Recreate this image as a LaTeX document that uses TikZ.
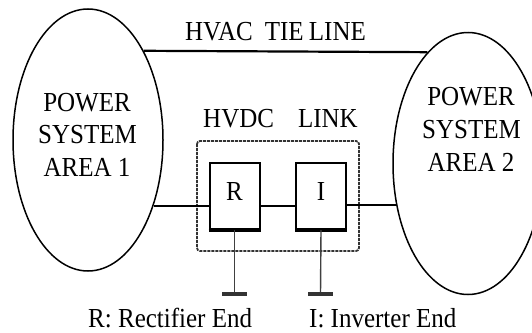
\documentclass[tikz,border=0pt]{standalone}
\usepackage{fontspec}
\usepackage{graphicx}
\setmainfont{Liberation Serif}
\usetikzlibrary{shapes.geometric}
\newcommand{\tx}[1]{\scalebox{1}[1.1]{#1}}
\tikzset{
  area/.style={draw, ellipse, line width=1.5pt, minimum width=150pt, minimum height=262pt, inner sep=0pt},
  lbl/.style={font=\fontsize{25}{30}\selectfont, inner sep=0pt, anchor=base},
  conv/.style={draw, line width=2pt, minimum width=50pt, minimum height=66pt, inner sep=0pt,
    font=\fontsize{25}{30}\selectfont, text depth=9pt},
  wire/.style={line width=2.2pt},
  gnd/.style={line width=1.4pt, draw=black!75},
  gbar/.style={line width=3.5pt, draw=black!80},
}
\begin{document}
\begin{tikzpicture}[x=1pt, y=-1pt]
\useasboundingbox (0,0) rectangle (532,332);
% areas
\node[area] (A1) at (88,140) {};
\node[area] (A2) at (468,163.5) {};
\node[lbl] (a1l1) at (87,111) {\tx{POWER}};
\node[lbl] (a1l2) at (87.5,143) {\tx{SYSTEM}};
\node[lbl] (a1l3) at (87,176) {\tx{AREA 1}};
\node[lbl] (a2l1) at (471,105) {\tx{POWER}};
\node[lbl] (a2l2) at (471.5,138) {\tx{SYSTEM}};
\node[lbl] (a2l3) at (471,171) {\tx{AREA 2}};
% HVAC tie line
\draw[wire] (A1.58) -- (A2.110.4);
\node[lbl] (hvac) at (275.5,40) {\tx{HVAC\hspace{12pt}TIE\hspace{-1pt} LINE}};
% HVDC link
\draw[line width=1.8pt, draw=black!80, dash pattern=on 3pt off 1pt, rounded corners=3pt]
  (197,141) rectangle (359,251);
\node[lbl, anchor=base west] (hvdc) at (203,127) {\tx{HVDC\hspace{24pt}LINK}};
\node[conv] (R) at (234.5,196) {\tx{R}};
\node[conv] (I) at (321,196) {\tx{I}};
\draw[line width=3pt] (R.south west) -- (R.south east);
\draw[line width=3pt] (I.south west) -- (I.south east);
\draw[wire] (A1.-45) -- (R.west |- A1.-45);
\draw[wire] (R.east |- A1.-45) -- (I.west |- A1.-45);
\draw[wire] (I.east |- A2.210.9) -- (A2.210.9);
% grounds
\coordinate (gR) at (234.5,294);
\coordinate (gI) at (320.5,294);
\draw[gnd] (R.south) -- (gR);
\draw[gnd] (I.south) -- (gI);
\draw[gbar] ([xshift=-12.5pt]gR) -- ([xshift=12.5pt]gR);
\draw[gbar] ([xshift=-12.5pt]gI) -- ([xshift=12.5pt]gI);
% legend
\node[lbl, anchor=base west] (legR) at (88,327) {\tx{R: Rectifier End}};
\node[lbl, anchor=base west] (legI) at (309,327) {\tx{I: Inverter End}};
\end{tikzpicture}
\end{document}
